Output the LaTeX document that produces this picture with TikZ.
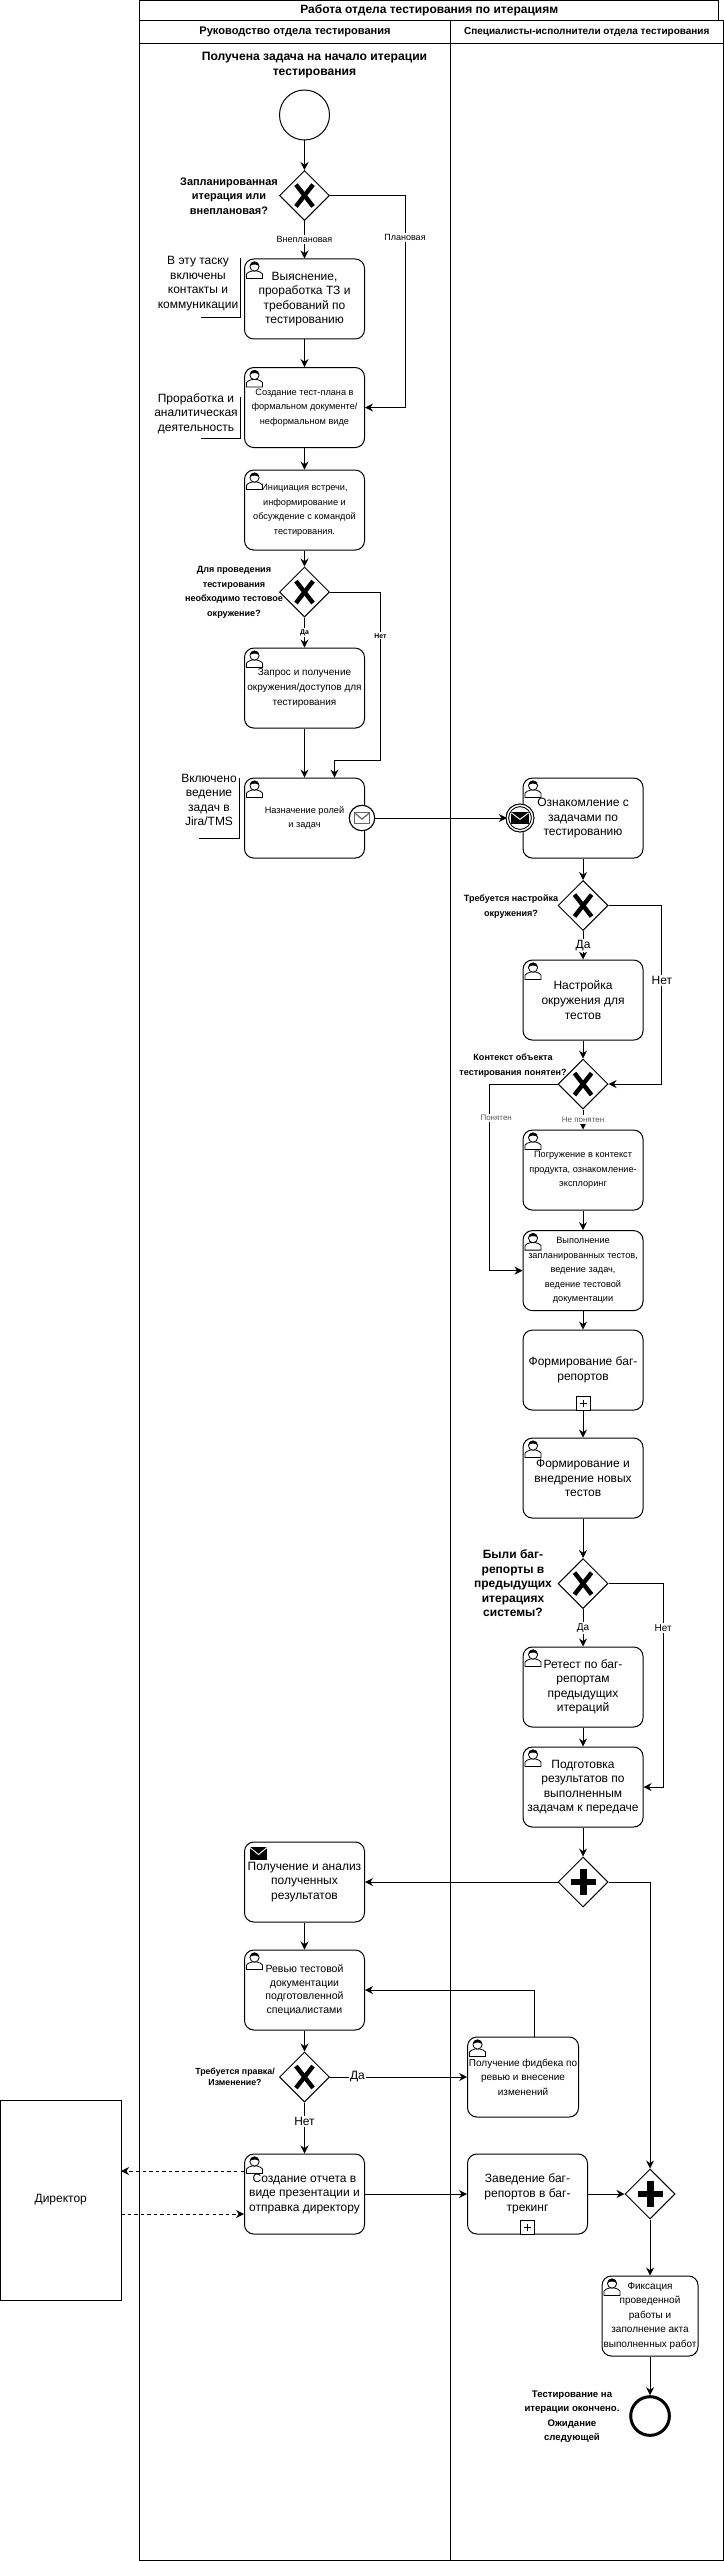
\documentclass[tikz,border=0pt]{standalone}
\usepackage{fontspec}
\setmainfont{Liberation Sans}
\usetikzlibrary{arrows.meta,positioning,shapes.geometric}

\tikzset{
  fa/.style={font=\fontsize{9pt}{10.9pt}\selectfont},
  fb/.style={font=\fontsize{7.5pt}{10.9pt}\selectfont},
  fc/.style={font=\fontsize{6.9pt}{10.9pt}\selectfont},
  task/.style={rectangle, draw, fill=white, rounded corners=7pt, minimum width=90pt, minimum height=60pt, inner sep=0pt, align=center},
  ask/.style={align=center, inner sep=0pt, font=\bfseries\fontsize{6.8pt}{10.9pt}\selectfont},
  note/.style={align=center, inner sep=0pt, fa},
  lab/.style={fill=white, inner sep=1pt, font=\fontsize{6.75pt}{8pt}\selectfont},
  lane/.style={rectangle, draw, anchor=north west, inner sep=0pt, outer sep=0pt, align=center},
  xgate/.style={diamond, draw, fill=white, minimum size=37.5pt, inner sep=0pt, path picture={
    \draw[-, line width=3.3pt] ([xshift=-6.4pt,yshift=8.2pt]path picture bounding box.center) -- ([xshift=6.4pt,yshift=-8.2pt]path picture bounding box.center);
    \draw[-, line width=3.3pt] ([xshift=6.4pt,yshift=8.2pt]path picture bounding box.center) -- ([xshift=-6.4pt,yshift=-8.2pt]path picture bounding box.center);}},
  pgate/.style={diamond, draw, fill=white, minimum size=37.5pt, inner sep=0pt, path picture={
    \draw[-, line width=5.2pt] ([yshift=9.4pt]path picture bounding box.center) -- ([yshift=-9.4pt]path picture bounding box.center);
    \draw[-, line width=5.2pt] ([xshift=9.4pt]path picture bounding box.center) -- ([xshift=-9.4pt]path picture bounding box.center);}},
  msgthrow/.style={circle, draw, fill=white, minimum size=19pt, inner sep=0pt, path picture={
    \draw[-, gray!80!black, line width=.9pt] ([xshift=-5.8pt,yshift=-4pt]path picture bounding box.center) rectangle ([xshift=5.8pt,yshift=4pt]path picture bounding box.center);
    \draw[-, gray!80!black, line width=.9pt] ([xshift=-5.8pt,yshift=4pt]path picture bounding box.center) -- ([yshift=-.8pt]path picture bounding box.center) -- ([xshift=5.8pt,yshift=4pt]path picture bounding box.center);}},
  msgcatch/.style={circle, draw, fill=white, double, double distance=1.1pt, minimum size=19pt, inner sep=0pt, path picture={
    \fill[black] ([xshift=-6.6pt,yshift=-4.8pt]path picture bounding box.center) rectangle ([xshift=6.6pt,yshift=4.8pt]path picture bounding box.center);
    \draw[-, white, line width=.7pt] ([xshift=-6.6pt,yshift=4pt]path picture bounding box.center) -- ([yshift=-1pt]path picture bounding box.center) -- ([xshift=6.6pt,yshift=4pt]path picture bounding box.center);}}
}

% person in the corner of a task
\newcommand{\usericon}[1]{
  \begin{scope}[-, shift={(#1.north west)}, line width=.6pt]
    \draw[fill=white] (2.5,20) -- (2.5,15.5) .. controls (3,13.5) and (6,13.5) .. (8,12.5) -- (13,12.5) .. controls (15,13.5) and (18,13.5) .. (18.5,15.5) -- (18.5,20) -- cycle;
    \draw[fill=white] (10.5,8) circle (4.6);
    \fill (6.2,7.5) .. controls (6,1.5) and (15,1.5) .. (14.8,7.5) .. controls (13,5.5) and (8,5.5) .. (6.2,7.5) -- cycle;
  \end{scope}
}
% box with a plus at the foot of a task
\newcommand{\submarker}[1]{
  \draw[-, fill=white] ([xshift=-5.25pt]#1.south) rectangle ([xshift=5.25pt,yshift=10.5pt]#1.south);
  \draw[-] ([xshift=-2.6pt,yshift=5.25pt]#1.south) -- ([xshift=2.6pt,yshift=5.25pt]#1.south);
  \draw[-] ([yshift=2.6pt]#1.south) -- ([yshift=7.9pt]#1.south);
}

\begin{document}
\begin{tikzpicture}[->, >={Stealth[length=6pt,width=6pt]}, x=0.75pt, y=-0.75pt, on grid, line width=0.75pt]
    \useasboundingbox (0,0) rectangle (724,2561);

    % Lanes
    \node[lane, minimum width=434.6pt, minimum height=15pt, font=\bfseries\fontsize{9pt}{11pt}\selectfont] (Ptitle) at (139.5,0.5) {Работа отдела тестирования по итерациям};
    \node[lane, minimum width=233.25pt, minimum height=17.25pt, font=\bfseries\fontsize{8.3pt}{11pt}\selectfont] (Lhead) at (139.5,20.5) {Руководство отдела тестирования};
    \node[lane, minimum width=204.4pt, minimum height=17.25pt, font=\bfseries\fontsize{7.5pt}{11pt}\selectfont] (Rhead) at (450.5,20.5) {Специалисты-исполнители отдела тестирования};
    \node[lane, minimum width=233.25pt, minimum height=1887.75pt] (Lbody) at (139.5,43.5) {};
    \node[lane, minimum width=204.4pt, minimum height=1887.75pt] (Rbody) at (450.5,43.5) {};
    \node[lane, minimum width=90.4pt, minimum height=150pt, fa] (Rdirector) at (0.5,2100) {Директор};

    % States
    \node[circle, draw, fill=white, minimum size=37.5pt, inner sep=0pt] (Sstart) at (304.5,115) {};
    \node[xgate] (Gplan) [below=60.4pt of Sstart] {};
    \node[task, fa] (Tclarify) [below=77.6pt of Gplan] {Выяснение,\\проработка ТЗ и\\требований по\\тестированию};
    \node[task, fc] (Tplan) [below=81.4pt of Tclarify] {Создание тест-плана в\\формальном документе/\\неформальном виде};
    \node[task, fc] (Tmeet) [below=76.9pt of Tplan] {Инициация встречи,\\информирование и\\обсуждение с командой\\тестирования.};
    \node[xgate] (Gneed) [below=61.5pt of Tmeet] {};
    \node[task, fb] (Tenv) [below=72pt of Gneed] {Запрос и получение\\окружения/доступов для\\тестирования};
    \node[task, fc] (Tassign) [below=97.5pt of Tenv] {Назначение ролей\\и задач};
    \node[msgthrow] (Mthrow) at (362,818) {};

    \node[task, fa] (Tread) [right=208.9pt of Tassign] {Ознакомление с\\задачами по\\тестированию};
    \node[msgcatch] (Mcatch) at (520,818) {};
    \node[xgate] (Gsetup) [below=65.6pt of Tread] {};
    \node[task, fa] (Tsetup) [below=70.9pt of Gsetup] {Настройка\\окружения для\\тестов};
    \node[xgate] (Gctx) [below=63pt of Tsetup] {};
    \node[task, fc] (Tdive) [below=64.5pt of Gctx] {Погружение в контекст\\продукта, ознакомление-\\эксплоринг};
    \node[task, fc] (Trun) [below=75.4pt of Tdive] {Выполнение\\запланированных тестов,\\ведение задач,\\ведение тестовой\\документации};
    \node[task, fa] (Tbugs) [below=74.6pt of Trun] {Формирование баг-\\репортов};
    \node[task, fa] (Tnew) [below=81pt of Tbugs] {Формирование и\\внедрение новых\\тестов};
    \node[xgate] (Gprev) [below=79.1pt of Tnew] {};
    \node[task, fa] (Tretest) [below=77.6pt of Gprev] {Ретест по баг-\\репортам\\предыдущих\\итераций};
    \node[task, fa] (Tprep) [below=75pt of Tretest] {Подготовка\\результатов по\\выполненным\\задачам к передаче};
    \node[pgate] (Gsplit) [below=71.25pt of Tprep] {};

    \node[task, fa] (Tget) [left=208.9pt of Gsplit] {Получение и анализ\\полученных\\результатов};
    \node[task, font=\fontsize{7.9pt}{10.1pt}\selectfont] (Treview) [below=81pt of Tget] {Ревью тестовой\\документации\\подготовленной\\специалистами};
    \node[xgate] (Gfix) [below=65.25pt of Treview] {};
    \node[task, fb, minimum width=83.25pt] (Tfeedback) [right=163.9pt of Gfix] {Получение фидбека по\\ревью и внесение\\изменений};
    \node[task, fa] (Treport) [below=87.75pt of Gfix] {Создание отчета в\\виде презентации и\\отправка директору};
    \node[task, fa] (Ttrack) [right=167.25pt of Treport] {Заведение баг-\\репортов в баг-\\трекинг};
    \node[pgate] (Gjoin) [right=91.9pt of Ttrack] {};
    \node[task, fb, minimum width=72pt] (Tfix) [below=91.5pt of Gjoin] {Фиксация\\проведенной\\работы и\\заполнение акта\\выполненных работ};
    \node[circle, draw, line width=2.25pt, fill=white, minimum size=29pt, inner sep=0pt] (Send) [below=75pt of Tfix] {};

    % Icons
    \usericon{Tclarify}
    \usericon{Tplan}
    \usericon{Tmeet}
    \usericon{Tenv}
    \usericon{Tassign}
    \usericon{Tread}
    \usericon{Tsetup}
    \usericon{Tdive}
    \usericon{Trun}
    \usericon{Tnew}
    \usericon{Tretest}
    \usericon{Tprep}
    \usericon{Treview}
    \usericon{Tfeedback}
    \usericon{Treport}
    \usericon{Tfix}
    \submarker{Tbugs}
    \submarker{Ttrack}
    \node[msgthrow] at (Mthrow) {};
    \node[msgcatch] at (Mcatch) {};
    \begin{scope}[-, shift={(Tget.north west)}]
      \fill (6,5) rectangle (23,18);
      \draw[white, line width=.7pt] (6,6) -- (14.5,13) -- (23,6);
    \end{scope}

    % Texts
    \node[align=center, inner sep=0pt, font=\bfseries\fontsize{9.1pt}{11.7pt}\selectfont] (Ntop) at (314.5,65) {Получена задача на начало итерации\\тестирования};
    \node[ask, font=\bfseries\fontsize{8.2pt}{10.9pt}\selectfont] (Nplan) at (229,196) {Запланированная\\итерация или\\внеплановая?};
    \node[ask] (Nneed) at (234,592.5) {Для проведения\\тестирования\\необходимо тестовое\\окружение?};
    \node[ask] (Nsetup) at (511,906.5) {Требуется настройка\\окружения?};
    \node[ask] (Nctx) at (513,1065.5) {Контекст объекта\\тестирования понятен?};
    \node[ask, font=\bfseries\fontsize{9pt}{10.9pt}\selectfont] (Nprev) at (513,1583.5) {Были баг-\\репорты в\\предыдущих\\итерациях\\системы?};
    \node[ask, font=\bfseries\fontsize{6.6pt}{8.3pt}\selectfont] (Nfix) at (235,2076.5) {Требуется правка/\\Изменение?};
    \node[ask, font=\bfseries\fontsize{7.2pt}{10.9pt}\selectfont] (Nend) at (572,2416.5) {Тестирование на\\итерации окончено.\\Ожидание\\следующей};
    \node[note] (Nclarify) at (198,283.5) {В эту таску\\включены\\контакты и\\коммуникации};
    \node[note] (Nanalyt) at (196,413.5) {Проработка и\\аналитическая\\деятельность};
    \node[note] (Njira) at (209,800) {Включено\\ведение\\задач в\\Jira/TMS};

    % Brackets
    \coordinate (Aclarifytop) at (240,258);
    \coordinate (Aclarifyend) at (201,318);
    \coordinate (Aanalyttop) at (240,397);
    \coordinate (Aanalytend) at (201,438);
    \coordinate (Ajiratop) at (239,778);
    \coordinate (Ajiraend) at (199,838);
    \draw[-] (Aclarifytop) |- (Aclarifyend);
    \draw[-] (Aanalyttop) |- (Aanalytend);
    \draw[-] (Ajiratop) |- (Ajiraend);

    % Transitions
    \path
      (Sstart) edge (Gplan)
      (Gplan) edge node[lab] {Внеплановая} (Tclarify)
      (Tclarify) edge (Tplan)
      (Tplan) edge (Tmeet)
      (Tmeet) edge (Gneed)
      (Gneed) edge node[lab, font=\bfseries\fontsize{5.2pt}{6pt}\selectfont] {Да} (Tenv)
      (Tenv) edge (Tassign)
      (Mthrow) edge (Mcatch)

      (Tread) edge (Gsetup)
      (Gsetup) edge node[lab, fa] {Да} (Tsetup)
      (Tsetup) edge (Gctx)
      (Gctx) edge node[lab, text=black!65, font=\fontsize{6pt}{7pt}\selectfont] {Не понятен} (Tdive)
      (Tdive) edge (Trun)
      (Trun) edge (Tbugs)
      (Tbugs) edge (Tnew)
      (Tnew) edge (Gprev)
      (Gprev) edge node[lab, fb] {Да} (Tretest)
      (Tretest) edge (Tprep)
      (Tprep) edge (Gsplit)

      (Gsplit) edge (Tget)
      (Tget) edge (Treview)
      (Treview) edge (Gfix)
      (Gfix) edge node[lab, fa, pos=.2] {Да} (Tfeedback)
      (Gfix) edge node[lab, fa, pos=.37] {Нет} (Treport)
      (Treport) edge (Ttrack)
      (Ttrack) edge (Gjoin)
      (Gjoin) edge (Tfix)
      (Tfix) edge (Send);

    \coordinate[right=30pt of Tplan.east] (Bplan);
    \draw (Gplan.east) -| node[lab, pos=.6] {Плановая} (Bplan) -- (Tplan.east);

    \coordinate (Bneed) at (380.5,760);
    \coordinate[right=22.5pt of Tassign.north] (Iassign);
    \draw (Gneed.east) -| node[lab, pos=.63, font=\bfseries\fontsize{5.2pt}{6pt}\selectfont] {Нет} (Bneed) -| (Iassign);

    \coordinate[right=40pt of Gctx.east] (Bsetup);
    \draw (Gsetup.east) -| node[lab, fa, pos=.71] {Нет} (Bsetup) -- (Gctx.east);

    \coordinate[left=51pt of Gctx.west] (Bctx);
    \draw (Gctx.west) -| node[lab, text=black!65, pos=.59, xshift=5pt, font=\fontsize{6pt}{7pt}\selectfont] {Понятен} (Bctx |- Trun.west) -- (Trun.west);

    \coordinate[right=14.7pt of Tprep.east] (Bprev);
    \draw (Gprev.east) -| node[lab, fb, pos=.61] {Нет} (Bprev) -- (Tprep.east);

    \coordinate[right=8.6pt of Tfeedback.north] (Ofeedback);
    \draw (Ofeedback) |- (Treview.east);

    \draw (Gsplit.east) -| (Gjoin.north);

    \draw[dashed, dash pattern=on 2.6pt off 2.3pt] ([yshift=17.25pt]Treport.west) -- ([yshift=17.25pt]Treport.west -| Rdirector.east);
    \draw[dashed, dash pattern=on 2.6pt off 2.3pt] ([yshift=-15pt]Treport.west -| Rdirector.east) -- ([yshift=-15pt]Treport.west);
\end{tikzpicture}
\end{document}
